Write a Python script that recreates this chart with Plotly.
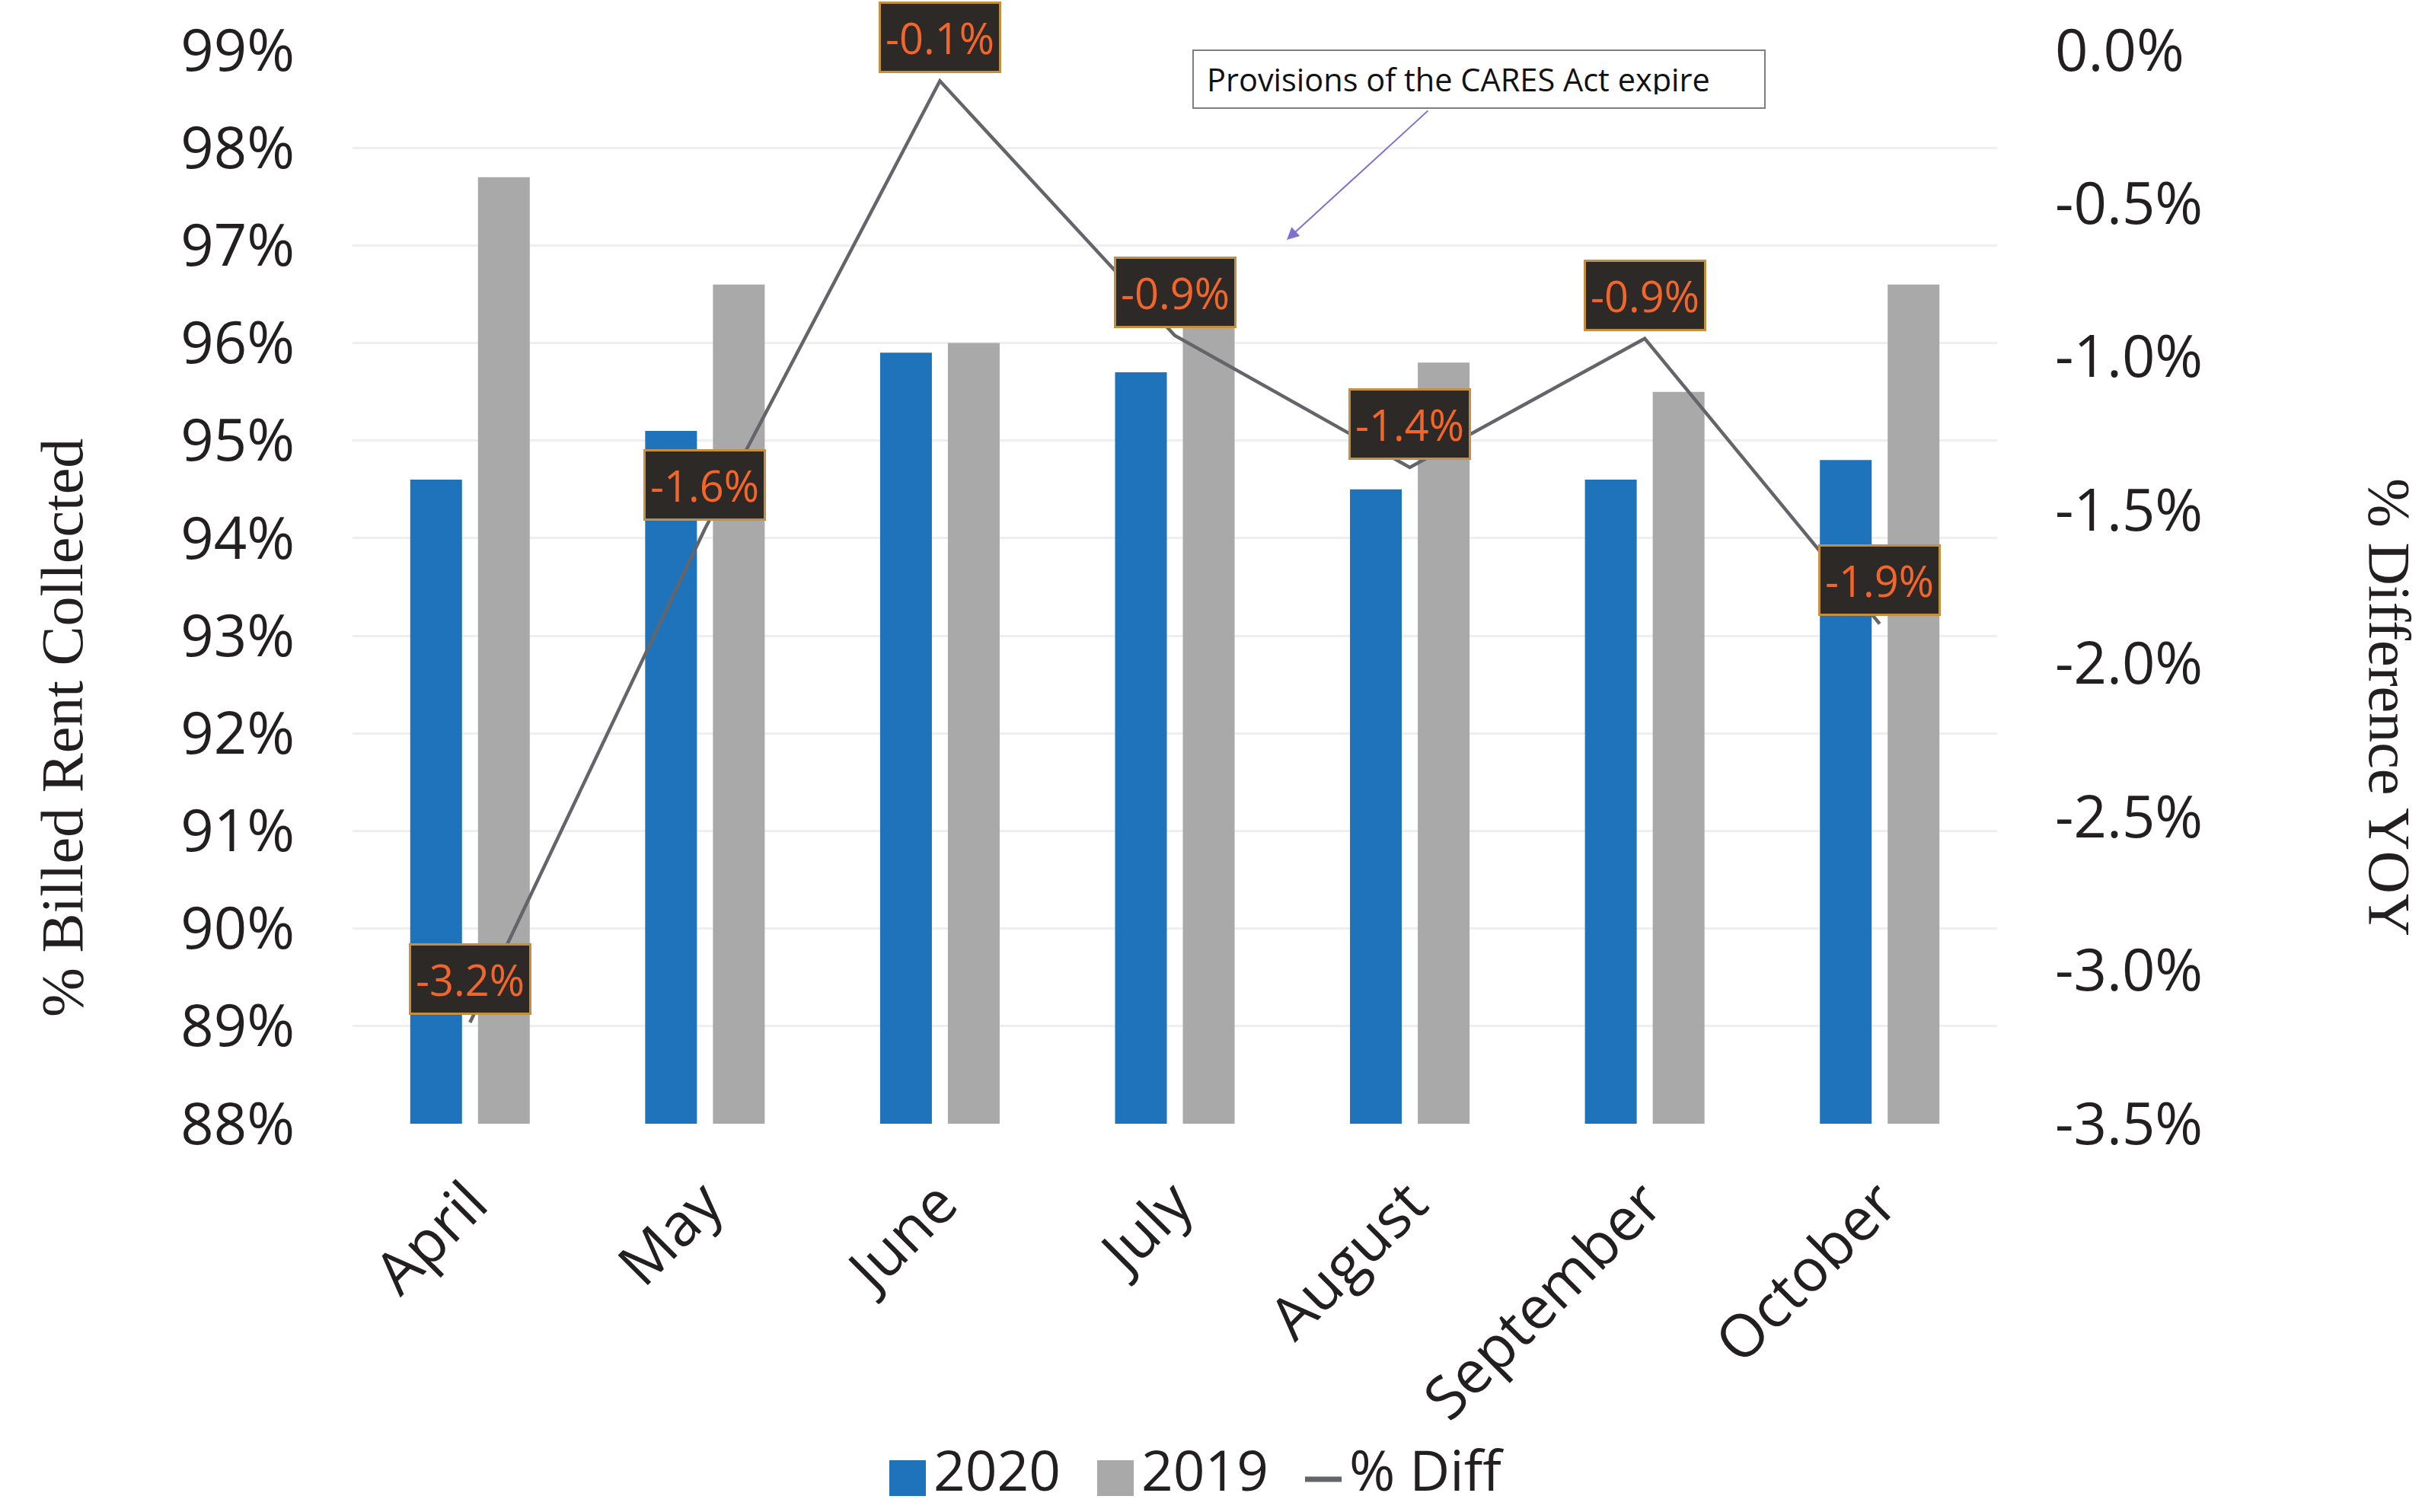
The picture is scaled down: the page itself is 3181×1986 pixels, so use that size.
import plotly.graph_objects as go

# Monthly rent collection, 2020 vs 2019
months = ["April", "May", "June", "July", "August", "September", "October"]
collected_2020 = [94.6, 95.1, 95.9, 95.7, 94.5, 94.6, 94.8]
collected_2019 = [97.7, 96.6, 96.0, 96.6, 95.8, 95.5, 96.6]
pct_diff = [-3.17, -1.56, -0.10, -0.93, -1.36, -0.94, -1.87]

left_ticks = list(range(88, 100))
right_ticks = [-3.5, -3.0, -2.5, -2.0, -1.5, -1.0, -0.5, 0.0]

W, H = 3181, 1986
ML, MR, MT, MB = 463, 558, 66, 510
PW, PH = W - ML - MR, H - MT - MB

BLUE = "#1f73ba"
GRAY = "#a9a9a9"
LINE = "#64656a"
INK = "#231f20"
FONT = "Open Sans"


def px_x(px):
    return (px - ML) / PW


def px_y(py):
    return (H - MB - py) / PH


fig = go.Figure()
fig.add_trace(go.Bar(x=months, y=collected_2020, name="2020", marker_color=BLUE,
                     marker_line_width=0))
fig.add_trace(go.Bar(x=months, y=collected_2019, name="2019", marker_color=GRAY,
                     marker_line_width=0))
fig.add_trace(go.Scatter(x=months, y=pct_diff, name="% Diff", yaxis="y2", mode="lines",
                         line=dict(color=LINE, width=4.5)))

annotations = []
# value labels above each point of the difference line
for m, v in zip(months, pct_diff):
    annotations.append(dict(
        x=m, y=v, xref="x", yref="y2", text=f"{v:.1f}%", showarrow=False,
        yshift=57, font=dict(family=FONT, size=56, color="#f2652b"),
        bgcolor="#2d2926", bordercolor="#c4903f", borderwidth=3, borderpad=6,
    ))

# callout box
annotations.append(dict(
    x=px_x(1566), y=px_y(65), xref="paper", yref="paper", xanchor="left", yanchor="top",
    text="Provisions of the CARES Act expire", showarrow=False, align="left",
    width=715, height=40, borderpad=17, borderwidth=2, bordercolor="#7f7f7f",
    bgcolor="white", font=dict(family=FONT, size=41.5, color="#111111"),
))
# callout pointer
annotations.append(dict(
    x=px_x(1690), y=px_y(315), xref="paper", yref="paper", text="", showarrow=True,
    ax=187, ay=-171, arrowhead=2, arrowsize=1.6, arrowwidth=2, arrowcolor="#7c70d2",
    standoff=0, startstandoff=0,
))

# axis titles
annotations.append(dict(
    x=px_x(81), y=px_y(956), xref="paper", yref="paper", xanchor="center", yanchor="middle",
    text="% Billed Rent Collected", textangle=-90, showarrow=False,
    font=dict(family="Liberation Serif", size=78, color=INK),
))
annotations.append(dict(
    x=px_x(3139), y=px_y(929), xref="paper", yref="paper", xanchor="center", yanchor="middle",
    text="% Difference YOY", textangle=90, showarrow=False,
    font=dict(family="Liberation Serif", size=78, color=INK),
))

# legend
shapes = []
legend_y = 1929
legend_items = [("rect", BLUE, 1168, "2020"), ("rect", GRAY, 1441, "2019"), ("line", LINE, 1714, "% Diff")]
for kind, color, x0, label in legend_items:
    if kind == "rect":
        shapes.append(dict(type="rect", xref="paper", yref="paper",
                           x0=px_x(x0), x1=px_x(x0 + 48), y0=px_y(1918), y1=px_y(1965),
                           fillcolor=color, line_width=0))
    else:
        shapes.append(dict(type="line", xref="paper", yref="paper",
                           x0=px_x(x0), x1=px_x(x0 + 48), y0=px_y(1943), y1=px_y(1943),
                           line=dict(color=color, width=7)))
    annotations.append(dict(
        x=px_x(x0 + 56), y=px_y(legend_y), xref="paper", yref="paper", xanchor="left",
        yanchor="middle", text=label, showarrow=False,
        font=dict(family=FONT, size=73, color=INK),
    ))

fig.update_layout(
    template="none",
    width=W, height=H,
    margin=dict(l=ML, r=MR, t=MT, b=MB, autoexpand=False),
    paper_bgcolor="white", plot_bgcolor="white",
    barmode="group", bargap=0.423, bargroupgap=0.236,
    showlegend=False,
    font=dict(family=FONT, color=INK),
    xaxis=dict(
        type="category", showgrid=False, showline=False, zeroline=False, ticks="",
        tickangle=-45, tickfont=dict(family=FONT, size=78, color=INK),
        automargin=False, ticklabelstandoff=42,
    ),
    yaxis=dict(
        range=[88, 99], tickvals=left_ticks, ticktext=[f"{t}%" for t in left_ticks],
        showgrid=True, gridcolor="#efefef", gridwidth=3, zeroline=False, showline=False,
        ticks="", tickfont=dict(family=FONT, size=76, color=INK),
        automargin=False, ticklabelstandoff=75,
    ),
    yaxis2=dict(
        range=[-3.5, 0], overlaying="y", side="right", tickvals=right_ticks,
        ticktext=[f"{t:.1f}%" for t in right_ticks], showgrid=False, zeroline=False,
        showline=False, ticks="", tickfont=dict(family=FONT, size=76, color=INK),
        automargin=False, ticklabelstandoff=75,
    ),
    annotations=annotations,
    shapes=shapes,
)

fig.write_html("out.html")
